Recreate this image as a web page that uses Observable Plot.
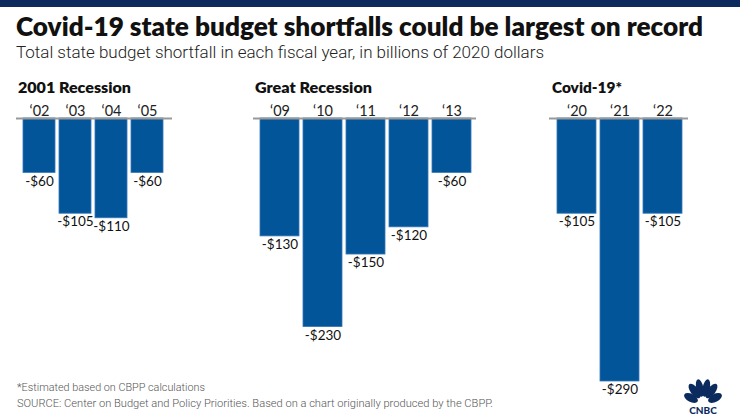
<!DOCTYPE html>
<html>
<head>
<meta charset="utf-8">
<script src="https://cdn.jsdelivr.net/npm/d3@7"></script>
<script src="https://cdn.jsdelivr.net/npm/@observablehq/plot@0.6"></script>
<style>
  html, body { margin: 0; padding: 0; background: #fff; }
  body { width: 740px; height: 416px; position: relative; overflow: hidden; font-family: Lato, "Open Sans", sans-serif; }
  .abs { position: absolute; white-space: nowrap; line-height: 1.1; }
  #topbar { left: 0; top: 0; width: 740px; height: 7px; background: #0b2b5f; }
  #title { left: 16px; top: 13px; font-size: 26px; line-height: 1; font-weight: 800; color: #111; transform-origin: left top; }
  #subtitle { left: 16px; top: 44px; font-family: Roboto, sans-serif; font-size: 17px; line-height: 1; font-weight: 300; color: #222; transform-origin: left top; }
  .ptitle { font-size: 15.5px; font-weight: 800; color: #111; transform-origin: left top; }
  .foot { left: 17px; font-family: Roboto, sans-serif; font-size: 11px; font-weight: 300; color: #555; transform-origin: left top; }
  .panel { position: absolute; top: 95px; }
  .panel svg { overflow: visible; }
</style>
</head>
<body>
<div id="topbar" class="abs"></div>
<div id="title" class="abs">Covid-19 state budget shortfalls could be largest on record</div>
<div id="subtitle" class="abs">Total state budget shortfall in each fiscal year, in billions of 2020 dollars</div>

<div id="pt1" class="abs ptitle" style="left:18px;top:79px;">2001 Recession</div>
<div id="pt2" class="abs ptitle" style="left:255px;top:79px;">Great Recession</div>
<div id="pt3" class="abs ptitle" style="left:552px;top:79px;">Covid-19*</div>

<div id="p1" class="panel" style="left:16px;"></div>
<div id="p2" class="panel" style="left:253px;"></div>
<div id="p3" class="panel" style="left:549px;"></div>

<div id="f1" class="abs foot" style="top:382px;">*Estimated based on CBPP calculations</div>
<div id="f2" class="abs foot" style="top:398px;">SOURCE: Center on Budget and Policy Priorities. Based on a chart originally produced by the CBPP.</div>

<svg class="abs" style="left:684px;top:377px;" width="38" height="38" viewBox="0 0 38 38">
  <g fill="#0b2b5f" transform="translate(19,25)">
    <ellipse cx="-12" cy="-4" rx="4" ry="7.5" transform="rotate(-62 -12 -4)"/>
    <ellipse cx="-8.5" cy="-11" rx="4" ry="8.5" transform="rotate(-36 -8.5 -11)"/>
    <ellipse cx="-3.2" cy="-14" rx="3.6" ry="9" transform="rotate(-12 -3.2 -14)"/>
    <ellipse cx="3.2" cy="-14" rx="3.6" ry="9" transform="rotate(12 3.2 -14)"/>
    <ellipse cx="8.5" cy="-11" rx="4" ry="8.5" transform="rotate(36 8.5 -11)"/>
    <ellipse cx="12" cy="-4" rx="4" ry="7.5" transform="rotate(62 12 -4)"/>
  </g>
  <rect x="6" y="26" width="26" height="2" fill="#fff"/>
  <text x="19" y="37" text-anchor="middle" font-family="Lato, sans-serif" font-weight="900" font-size="10" fill="#0b2b5f">CNBC</text>
</svg>

<script>
// ---- data ----
const years2001 = ["‘02", "‘03", "‘04", "‘05"];
const values2001 = [-60, -105, -110, -60];

const yearsGreat = ["‘09", "‘10", "‘11", "‘12", "‘13"];
const valuesGreat = [-130, -230, -150, -120, -60];

const yearsCovid = ["‘20", "‘21", "‘22"];
const valuesCovid = [-105, -290, -105];

const barColor = "#03559a";

function panel(el, years, values, width, range) {
  const data = years.map((yr, i) => ({ year: yr, value: values[i] }));
  const chart = Plot.plot({
    width,
    height: 310,
    marginTop: 23,
    marginBottom: 24,
    marginLeft: 0,
    marginRight: 0,
    style: { fontFamily: "Lato, sans-serif", background: "transparent", overflow: "visible" },
    x: { domain: years, range, paddingInner: 0.1, paddingOuter: 0.05, axis: null },
    y: { domain: [-290, 0], axis: null },
    marks: [
      Plot.barY(data, { x: "year", y: "value", fill: barColor, stroke: "#3577b6", strokeWidth: 0.8 }),
      Plot.ruleY([0], { stroke: "#999", strokeWidth: 2 }),
      Plot.axisX({ anchor: "top", tickSize: 0, tickPadding: 3, fontSize: 14.5, fill: "#222", label: null }),
      Plot.text(data, { x: "year", y: "value", text: d => "-$" + Math.abs(d.value), dy: 3, lineAnchor: "top", fontSize: 13.5, fill: "#111" })
    ]
  });
  document.getElementById(el).appendChild(chart);
}

panel("p1", years2001, values2001, 156, [4.2, 149.8]);
panel("p2", yearsGreat, valuesGreat, 223, [3.8, 221.2]);
panel("p3", yearsCovid, valuesCovid, 139, [4.8, 135.2]);

// fit text widths to the reference
function fit(id, target) {
  const el = document.getElementById(id);
  const w = el.getBoundingClientRect().width;
  el.style.transform = "scaleX(" + (target / w) + ")";
}
fit("title", 687);
fit("subtitle", 528);
fit("pt1", 113);
fit("pt2", 117);
fit("pt3", 70);
fit("f1", 188);
fit("f2", 476);
</script>
</body>
</html>
